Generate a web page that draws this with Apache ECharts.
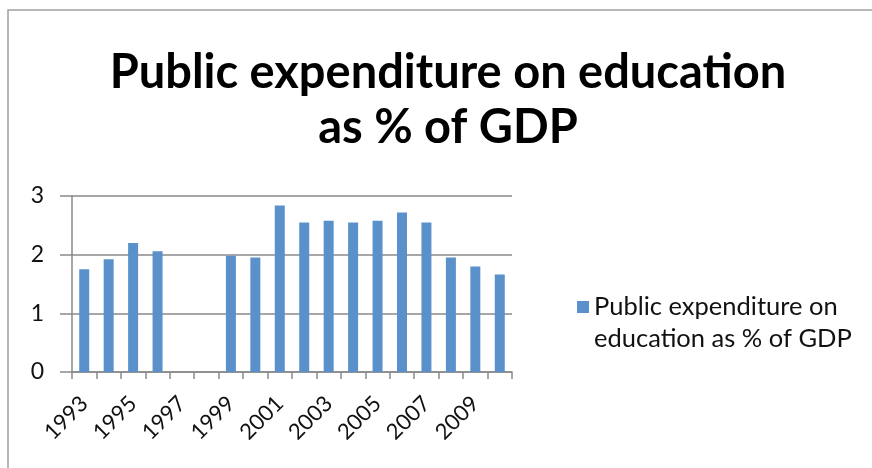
<!DOCTYPE html>
<html>
<head>
<meta charset="utf-8">
<script src="https://cdn.jsdelivr.net/npm/echarts@6/dist/echarts.min.js"></script>
<style>html,body{margin:0;padding:0;background:#fff;}#c{width:872px;height:468px;}</style>
</head>
<body>
<div id="c"></div>
<script>
const categories = ['1993','1994','1995','1996','1997','1998','1999','2000','2001','2002','2003','2004','2005','2006','2007','2008','2009','2010'];
const values = [1.75, 1.92, 2.2, 2.06, null, null, 1.98, 1.95, 2.84, 2.55, 2.58, 2.55, 2.58, 2.72, 2.55, 1.95, 1.8, 1.66];
const yTicks = [0, 1, 2, 3];
const seriesName = 'Public expenditure on education as % of GDP';
const titleText = 'Public expenditure on education\nas % of GDP';

const chart = echarts.init(document.getElementById('c'), null, {renderer: 'canvas'});
const font = 'Lato, "Open Sans", sans-serif';
chart.setOption({
  animation: false,
  backgroundColor: '#fff',
  graphic: [{
    type: 'rect', shape: {x: 8, y: 10, width: 900, height: 500},
    style: {fill: 'none', stroke: '#a0a0a0', lineWidth: 1.5}, silent: true
  }],
  title: {
    text: titleText,
    left: 443, top: 40, textAlign: 'center',
    textStyle: {fontFamily: font, fontWeight: 'bold', fontSize: 47, lineHeight: 55, color: '#000'}
  },
  legend: {
    left: 572, top: 254,
    itemWidth: 12, itemHeight: 12, itemGap: 10,
    icon: 'rect',
    data: [seriesName],
    formatter: () => ' \nPublic expenditure on\neducation as % of GDP',
    textStyle: {fontFamily: font, fontSize: 25.5, lineHeight: 32, color: '#111'}
  },
  grid: {left: 72, right: 360, top: 196, bottom: 96, containLabel: false},
  xAxis: {
    type: 'category', data: categories,
    axisLine: {lineStyle: {color: '#8a8a8a', width: 1.5}},
    axisTick: {show: true, length: 7, alignWithLabel: false, interval: 0, lineStyle: {color: '#8a8a8a', width: 1.5}},
    axisLabel: {interval: 1, rotate: 45, margin: 28, fontFamily: font, fontSize: 22, color: '#111'}
  },
  yAxis: {
    type: 'value', min: 0, max: 3, interval: 1,
    axisLine: {show: true, lineStyle: {color: '#8a8a8a', width: 1.5}},
    axisTick: {show: true, length: 12, inside: false, lineStyle: {color: '#8a8a8a', width: 1.5}},
    splitLine: {lineStyle: {color: '#8a8a8a', width: 1.5}},
    axisLabel: {margin: 28, fontFamily: font, fontSize: 23, color: '#111',
      formatter: v => yTicks.includes(v) ? String(v) : ''}
  },
  series: [{
    name: seriesName, type: 'bar', data: values, barWidth: 10,
    itemStyle: {color: '#5A91CA'}
  }]
});
</script>
</body>
</html>
